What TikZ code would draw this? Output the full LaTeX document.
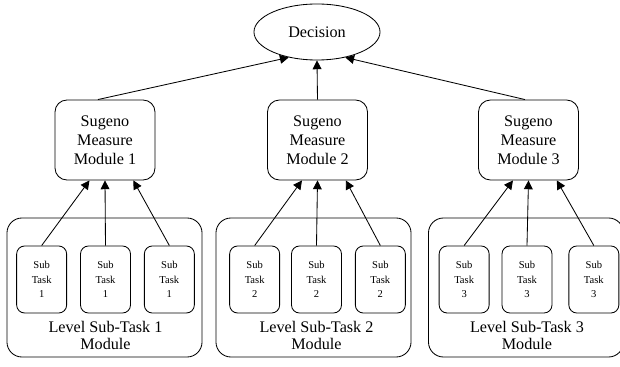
\documentclass[tikz,border=0pt]{standalone}
\usepackage{fontspec}
\setmainfont{Liberation Serif}
\usetikzlibrary{positioning,shapes.geometric,arrows.meta}
\tikzstyle{decision} = [ellipse, draw=black, minimum width=3.15cm, minimum height=1.4cm, font=\fontsize{11.5}{13.5}\selectfont]
\tikzstyle{sugeno} = [rectangle, rounded corners=0.3cm, draw=black, minimum width=2.5cm, minimum height=2cm, align=center, font=\fontsize{11.5}{13.5}\selectfont]
\tikzstyle{subtask} = [rectangle, rounded corners=0.2cm, draw=black, minimum width=1.25cm, minimum height=1.675cm, align=center, font=\fontsize{7.5}{10.3}\selectfont]
\tikzstyle{level} = [rectangle, rounded corners=0.375cm, draw=black, minimum width=4.875cm, minimum height=3.475cm]
\tikzstyle{levelname} = [align=center, inner sep=0pt, font=\fontsize{11.5}{12.5}\selectfont]
\tikzstyle{link} = [-{Triangle[length=0.22cm,width=0.22cm]}]

\begin{document}
\begin{tikzpicture}[x=0.025cm, y=-0.025cm, line width=0.6pt]
	\useasboundingbox (0,0) rectangle (620,367);%
	% top of the tree
	\node [decision] (dec) at (317,32) {Decision};
	\node [sugeno] (sug1) at (105,140) {Sugeno\\Measure\\Module 1};
	\node [sugeno] (sug2) at (317.5,140) {Sugeno\\Measure\\Module 2};
	\node [sugeno] (sug3) at (528.5,140) {Sugeno\\Measure\\Module 3};
	% level modules
	\node [level] (lev1) at (104.5,287.5) {};
	\node [level] (lev2) at (313.5,287.5) {};
	\node [level] (lev3) at (526,287.5) {};
	% sub tasks, middle one first
	\node [subtask] (sub12) at (105.5,279.5) {Sub\\Task\\1};
	\node [subtask, left=0.325cm of sub12] (sub11) {Sub\\Task\\1};
	\node [subtask, right=0.325cm of sub12] (sub13) {Sub\\Task\\1};
	\node [subtask] (sub22) at (316.5,279.5) {Sub\\Task\\2};
	\node [subtask, left=0.275cm of sub22] (sub21) {Sub\\Task\\2};
	\node [subtask, right=0.325cm of sub22] (sub23) {Sub\\Task\\2};
	\node [subtask] (sub32) at (527,279.5) {Sub\\Task\\3};
	\node [subtask, left=0.3cm of sub32] (sub31) {Sub\\Task\\3};
	\node [subtask, right=0.4cm of sub32] (sub33) {Sub\\Task\\3};
	\node [levelname, below=0.175cm of sub12] (name1) {Level Sub-Task 1\\Module};
	\node [levelname, below=0.175cm of sub22] (name2) {Level Sub-Task 2\\Module};
	\node [levelname, below=0.175cm of sub32] (name3) {Level Sub-Task 3\\Module};
	% arrows
	\draw [link] (sub11.north) -- (sug1.249);
	\draw [link] (sub12.north) -- (sug1.south);
	\draw [link] (sub13.north) -- (sug1.305);
	\draw [link] (sub21.north) -- (sug2.249);
	\draw [link] (sub22.north) -- (sug2.south);
	\draw [link] (sub23.north) -- (sug2.305);
	\draw [link] (sub31.north) -- (sug3.249);
	\draw [link] (sub32.north) -- (sug3.south);
	\draw [link] (sub33.north) -- (sug3.305);
	\draw [link] (sug1.100) -- (dec.222);
	\draw [link] (sug2.north) -- (dec.south);
	\draw [link] (sug3.95) -- (dec.318);
\end{tikzpicture}
\end{document}
